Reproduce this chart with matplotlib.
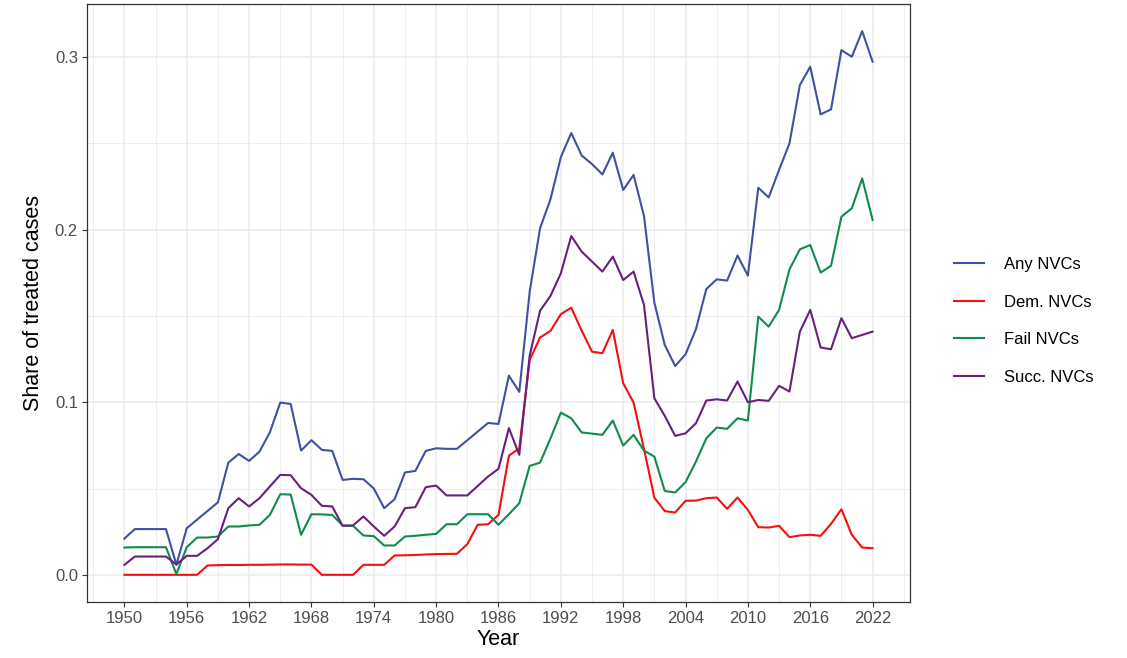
import matplotlib
matplotlib.use("Agg")
import matplotlib.pyplot as plt
import numpy as np

plt.rcParams['font.family'] = ['Liberation Sans', 'DejaVu Sans']

# yearly shares, 1950-2022
years = list(range(1950, 2023))

any_nvc = [
    0.021, 0.0265, 0.0265, 0.0265, 0.0265, 0.0058, 0.027, 0.032, 0.037, 0.042,      # 1950s
    0.065, 0.070, 0.066, 0.0714, 0.0826, 0.0998, 0.099, 0.072, 0.078, 0.0724,       # 1960s
    0.0718, 0.055, 0.0556, 0.0554, 0.050, 0.0386, 0.0438, 0.0593, 0.0602, 0.0718,  # 1970s
    0.0733, 0.073, 0.073, 0.078, 0.083, 0.088, 0.0874, 0.1154, 0.106, 0.164,        # 1980s
    0.2008, 0.2176, 0.242, 0.256, 0.243, 0.238, 0.232, 0.2446, 0.223, 0.2317,       # 1990s
    0.2079, 0.1577, 0.1332, 0.121, 0.1278, 0.1423, 0.1656, 0.1712, 0.1705, 0.185,   # 2000s
    0.1734, 0.2243, 0.2187, 0.2346, 0.250, 0.2838, 0.2944, 0.2668, 0.2697, 0.304,   # 2010s
    0.3002, 0.315, 0.2973,                                                          # 2020s
]

dem_nvc = [
    0.0, 0.0, 0.0, 0.0, 0.0, 0.0, 0.0, 0.0, 0.0054, 0.0056,
    0.0057, 0.0057, 0.0058, 0.0058, 0.0059, 0.006, 0.006, 0.0059, 0.0059, 0.0,
    0.0, 0.0, 0.0, 0.0058, 0.0058, 0.0058, 0.0112, 0.0113, 0.0115, 0.0118,
    0.012, 0.0121, 0.0122, 0.0178, 0.029, 0.0293, 0.0347, 0.069, 0.0733, 0.1245,
    0.1375, 0.1413, 0.151, 0.1548, 0.1415, 0.1293, 0.1284, 0.1419, 0.111, 0.0998,
    0.073, 0.0447, 0.0369, 0.0361, 0.0429, 0.043, 0.0444, 0.0448, 0.0382, 0.0448,
    0.0376, 0.0276, 0.0274, 0.0284, 0.0218, 0.0228, 0.0232, 0.0226, 0.0295, 0.038,
    0.0232, 0.0158, 0.0154,
]

fail_nvc = [
    0.0158, 0.016, 0.016, 0.016, 0.016, 0.0005, 0.016, 0.0216, 0.0216, 0.0222,
    0.028, 0.028, 0.0286, 0.029, 0.0347, 0.0467, 0.0465, 0.0232, 0.0351, 0.035,
    0.0347, 0.0286, 0.0284, 0.0228, 0.0224, 0.017, 0.017, 0.0222, 0.0226, 0.0232,
    0.0237, 0.0293, 0.0293, 0.0351, 0.0351, 0.0351, 0.029, 0.0351, 0.0415, 0.0631,
    0.065, 0.079, 0.094, 0.0907, 0.0825, 0.0818, 0.0811, 0.0894, 0.0749, 0.0811,
    0.072, 0.0685, 0.0486, 0.0477, 0.0537, 0.0656, 0.0791, 0.0853, 0.0846, 0.0907,
    0.0894, 0.1496, 0.1438, 0.1535, 0.177, 0.1886, 0.1911, 0.1751, 0.1791, 0.2075,
    0.2124, 0.2297, 0.2056,
]

succ_nvc = [
    0.0058, 0.0106, 0.0106, 0.0106, 0.0106, 0.006, 0.011, 0.011, 0.0154, 0.0207,
    0.0386, 0.0444, 0.0396, 0.0444, 0.0512, 0.0579, 0.0577, 0.0502, 0.0463, 0.040,
    0.0396, 0.0284, 0.0286, 0.0338, 0.028, 0.0226, 0.028, 0.0386, 0.0392, 0.0508,
    0.0517, 0.046, 0.046, 0.046, 0.0515, 0.057, 0.0614, 0.085, 0.0695, 0.127,
    0.153, 0.1616, 0.1747, 0.1963, 0.1873, 0.1815, 0.1757, 0.1844, 0.1708, 0.1757,
    0.1564, 0.1023, 0.0921, 0.0805, 0.082, 0.0878, 0.101, 0.1017, 0.101, 0.112,
    0.100, 0.1013, 0.1008, 0.1095, 0.1062, 0.1409, 0.1535, 0.1317, 0.1307, 0.1487,
    0.1371, 0.139, 0.1409,
]

series_labels = ["Any NVCs", "Dem. NVCs", "Fail NVCs", "Succ. NVCs"]
series_colors = ["#3F51A0", "#F50F0F", "#0E8C4C", "#67207F"]
x_ticks = list(range(1950, 2023, 6))
y_ticks = [0.0, 0.1, 0.2, 0.3]

fig = plt.figure(figsize=(11.27, 6.58), dpi=100)
ax = fig.add_axes([87 / 1127, 56 / 658, 823 / 1127, 598 / 658])

for vals, lab, col in zip([any_nvc, dem_nvc, fail_nvc, succ_nvc], series_labels, series_colors):
    ax.plot(years, vals, color=col, linewidth=1.5, label=lab, zorder=3)

# ggplot-like expansion of 5% on each side
xr = years[-1] - years[0]
ax.set_xlim(years[0] - 0.05 * xr, years[-1] + 0.05 * xr)
ymax = max(any_nvc)
ax.set_ylim(-0.05 * ymax, ymax * 1.05)

ax.set_xticks(x_ticks)
ax.set_yticks(y_ticks)
ax.set_yticklabels(["%.1f" % v for v in y_ticks])
minor_x = [x_ticks[0] - 3] + [t + 3 for t in x_ticks]
ax.set_xticks(minor_x, minor=True)
ax.set_yticks([0.05, 0.15, 0.25], minor=True)

ax.grid(which="major", color="#EBEBEB", linewidth=1.1, zorder=0)
ax.grid(which="minor", color="#EBEBEB", linewidth=0.6, zorder=0)
ax.set_axisbelow(True)

ax.tick_params(which="major", length=3.5, width=0.8, color="#333333",
               labelcolor="#4D4D4D", labelsize=12, pad=3)
ax.tick_params(which="minor", length=0)
for sp in ax.spines.values():
    sp.set_color("#333333")
    sp.set_linewidth(0.9)

ax.set_xlabel("Year", fontsize=15.5, labelpad=2)
ax.set_ylabel("Share of treated cases", fontsize=15.5, labelpad=8)

leg = ax.legend(loc="center left", bbox_to_anchor=(1.035, 0.47), frameon=False,
                fontsize=12, handlelength=1.8, handletextpad=1.2, labelspacing=1.35)

fig.savefig("out.png", dpi=100)
